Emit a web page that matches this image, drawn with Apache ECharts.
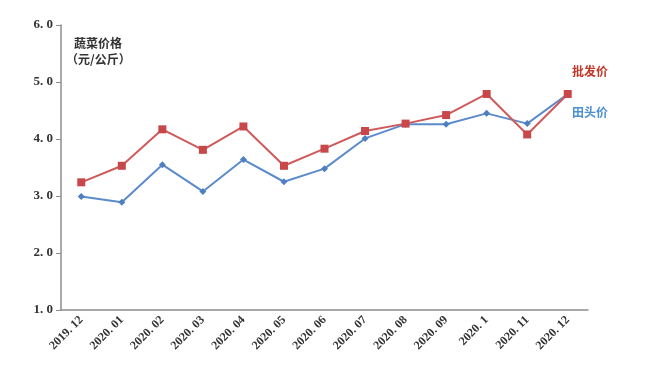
<!DOCTYPE html>
<html>
<head>
<meta charset="utf-8">
<script src="https://cdn.jsdelivr.net/npm/echarts@6/dist/echarts.min.js"></script>
<style>html,body{margin:0;padding:0;background:#fff;}#c{width:650px;height:374px;}</style>
</head>
<body>
<div id="c"></div>
<script>
var categories = ['2019. 12','2020. 01','2020. 02','2020. 03','2020. 04','2020. 05','2020. 06','2020. 07','2020. 08','2020. 09','2020. 1','2020. 11','2020. 12'];
var wholesale = [3.24, 3.53, 4.17, 3.81, 4.22, 3.53, 3.83, 4.14, 4.27, 4.42, 4.79, 4.08, 4.79];
var farmgate = [2.99, 2.89, 3.55, 3.08, 3.64, 3.25, 3.48, 4.01, 4.26, 4.26, 4.45, 4.27, 4.79];
var yTicks = [1, 2, 3, 4, 5, 6];

var chart = echarts.init(document.getElementById('c'));
var serif = '"Liberation Serif", "DejaVu Serif", serif';
var cjk = '"Noto Sans CJK SC", sans-serif';
chart.setOption({
  animation: false,
  backgroundColor: '#fff',
  grid: {left: 61, right: 62, top: 25, bottom: 64},
  xAxis: {
    type: 'category',
    data: categories,
    boundaryGap: true,
    axisLine: {lineStyle: {color: '#8c8c8c', width: 1.5}},
    axisTick: {alignWithLabel: true, length: 5, lineStyle: {color: '#8c8c8c'}},
    axisLabel: {rotate: 45, interval: 0, color: '#333', fontFamily: serif, fontWeight: 'bold', fontSize: 12, margin: 8}
  },
  yAxis: {
    type: 'value',
    min: yTicks[0], max: yTicks[yTicks.length - 1], interval: 1,
    axisLine: {show: true, lineStyle: {color: '#8c8c8c', width: 1.5}},
    axisTick: {show: true, length: 5, lineStyle: {color: '#8c8c8c'}},
    splitLine: {show: false},
    axisLabel: {color: '#333', fontFamily: serif, fontWeight: 'bold', fontSize: 13, margin: 8,
      formatter: function (v) { return v.toFixed(1).replace('.', '. '); }}
  },
  graphic: [
    {type: 'text', left: 74, top: 37, style: {text: '蔬菜价格', font: 'bold 12px ' + cjk, fill: '#333'}},
    {type: 'text', left: 66, top: 53, style: {text: '（元/公斤）', font: 'bold 12px ' + cjk, fill: '#333'}},
    {type: 'text', left: 572, top: 65, style: {text: '批发价', font: 'bold 12px ' + cjk, fill: '#C0392B'}},
    {type: 'text', left: 572, top: 106, style: {text: '田头价', font: 'bold 12px ' + cjk, fill: '#4A90D2'}}
  ],
  series: [
    {
      name: '田头价', type: 'line', data: farmgate,
      symbol: 'diamond', symbolSize: 7,
      lineStyle: {color: '#5B8BCB', width: 2},
      itemStyle: {color: '#4F7FC0'}
    },
    {
      name: '批发价', type: 'line', data: wholesale,
      symbol: 'rect', symbolSize: 8,
      lineStyle: {color: '#D05A5A', width: 2},
      itemStyle: {color: '#C8474A'}
    }
  ]
});
</script>
</body>
</html>
